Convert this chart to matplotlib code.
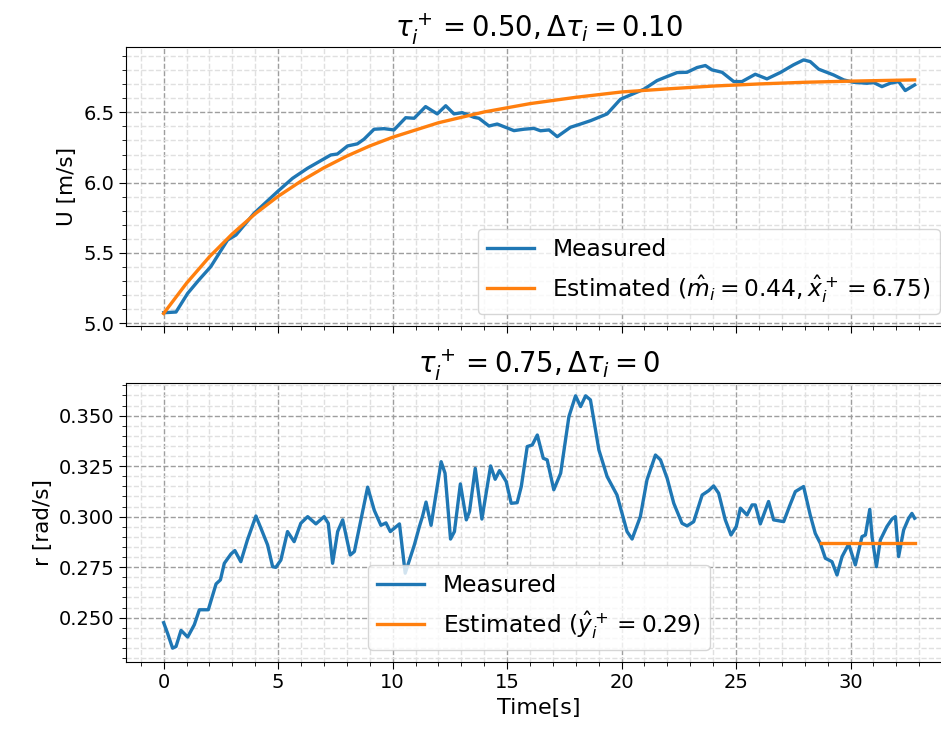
import matplotlib
import matplotlib.pyplot as plt
from matplotlib.ticker import AutoMinorLocator, MultipleLocator

matplotlib.use("Agg")

# =========================
# Data
# =========================
t_u = [0.0, 0.54, 1.05, 1.55, 2.06, 2.79, 3.16, 3.95, 4.97, 5.63, 6.28, 7.30, 7.59,
       8.03, 8.46, 8.75, 9.19, 9.63, 10.06, 10.57, 10.94, 11.44, 11.95, 12.32, 12.68,
       13.04, 13.55, 13.77, 14.21, 14.57, 15.30, 15.73, 16.17, 16.46, 16.83, 17.19,
       17.77, 18.21, 18.65, 19.37, 19.95, 20.39, 20.97, 21.55, 21.99, 22.43, 22.86,
       23.30, 23.66, 23.95, 24.39, 24.90, 25.26, 25.84, 26.35, 26.93, 27.51, 27.95,
       28.24, 28.61, 29.26, 29.70, 30.13, 30.72, 31.01, 31.37, 31.73, 32.10, 32.39, 32.80]
u_meas = [5.075, 5.08, 5.213, 5.31, 5.403, 5.592, 5.628, 5.782, 5.936, 6.031, 6.102,
          6.197, 6.204, 6.261, 6.276, 6.309, 6.380, 6.384, 6.375, 6.462, 6.458, 6.541,
          6.489, 6.547, 6.489, 6.498, 6.465, 6.458, 6.403, 6.417, 6.370, 6.380, 6.386,
          6.369, 6.375, 6.327, 6.394, 6.417, 6.441, 6.489, 6.593, 6.624, 6.664, 6.726,
          6.755, 6.783, 6.785, 6.819, 6.833, 6.802, 6.785, 6.719, 6.719, 6.771, 6.738,
          6.783, 6.838, 6.873, 6.861, 6.807, 6.766, 6.731, 6.714, 6.707, 6.712, 6.683,
          6.707, 6.719, 6.655, 6.695]

t_u_est = [0, 1, 2, 3, 4, 5, 6, 7, 8, 9, 10, 12, 14, 16, 18, 20, 22, 24, 26, 28, 30, 32.8]
u_est = [5.07, 5.285, 5.473, 5.636, 5.779, 5.903, 6.011, 6.106, 6.189, 6.261, 6.323,
         6.426, 6.503, 6.562, 6.607, 6.645, 6.667, 6.687, 6.702, 6.714, 6.722, 6.731]

t_r = [0.0, 0.17, 0.39, 0.54, 0.76, 1.05, 1.34, 1.56, 1.95, 2.29, 2.48, 2.65, 2.94,
       3.11, 3.37, 3.66, 4.03, 4.25, 4.54, 4.76, 4.90, 5.12, 5.41, 5.70, 5.99, 6.29,
       6.65, 7.01, 7.19, 7.38, 7.60, 7.82, 8.15, 8.33, 8.91, 9.20, 9.49, 9.71, 9.90,
       10.30, 10.55, 10.95, 11.17, 11.31, 11.46, 11.68, 12.12, 12.29, 12.53, 12.70,
       12.96, 13.22, 13.36, 13.61, 13.90, 14.28, 14.48, 14.67, 14.96, 15.18, 15.44,
       15.62, 15.88, 16.10, 16.32, 16.58, 16.75, 17.04, 17.34, 17.70, 17.99, 18.21,
       18.43, 18.64, 19.01, 19.37, 19.80, 20.24, 20.46, 20.82, 21.11, 21.48, 21.70,
       21.99, 22.28, 22.64, 22.86, 23.15, 23.52, 23.81, 24.02, 24.24, 24.53, 24.78,
       25.01, 25.19, 25.48, 25.70, 25.84, 26.06, 26.42, 26.64, 27.08, 27.34, 27.59,
       27.95, 28.24, 28.46, 28.68, 28.90, 29.19, 29.41, 29.63, 29.92, 30.21, 30.50,
       30.65, 30.84, 30.94, 31.13, 31.30, 31.59, 31.81, 31.96, 32.10, 32.32, 32.54,
       32.68, 32.80]
r_meas = [0.2475, 0.2423, 0.2349, 0.2357, 0.2437, 0.2404, 0.2465, 0.2539, 0.2539,
          0.2667, 0.2687, 0.2769, 0.2815, 0.2832, 0.2777, 0.2885, 0.3003, 0.2942,
          0.2860, 0.2752, 0.2749, 0.2785, 0.2926, 0.2876, 0.2967, 0.3000, 0.2964,
          0.3000, 0.2967, 0.2769, 0.2926, 0.2984, 0.2810, 0.2827, 0.3146, 0.3031,
          0.2957, 0.2969, 0.2926, 0.2964, 0.2720, 0.2860, 0.2951, 0.3003, 0.3072,
          0.2957, 0.3272, 0.3215, 0.2889, 0.2926, 0.3162, 0.2984, 0.3026, 0.3239,
          0.2988, 0.3251, 0.3185, 0.3228, 0.3174, 0.3066, 0.3069, 0.3149, 0.3347,
          0.3355, 0.3404, 0.3289, 0.3281, 0.3133, 0.3215, 0.3495, 0.3598, 0.3545,
          0.3598, 0.3578, 0.3330, 0.3198, 0.3107, 0.2926, 0.2889, 0.3000, 0.3182,
          0.3305, 0.3281, 0.3190, 0.3066, 0.2967, 0.2954, 0.2975, 0.3107, 0.3129,
          0.3152, 0.3116, 0.2984, 0.2909, 0.2951, 0.3042, 0.3008, 0.3058, 0.3058,
          0.2964, 0.3075, 0.2984, 0.2975, 0.3053, 0.3124, 0.3149, 0.3008, 0.2917,
          0.2868, 0.2794, 0.2777, 0.2711, 0.2802, 0.2864, 0.2761, 0.2901, 0.2909,
          0.3036, 0.2901, 0.2752, 0.2884, 0.2951, 0.2988, 0.3000, 0.2802, 0.2934,
          0.2992, 0.3016, 0.2992]

t_r_est = [28.73, 32.80]
r_est = [0.287, 0.287]

# =========================
# Figure
# =========================
fig = plt.figure(figsize=(9.41, 7.33), dpi=100)
ax1 = fig.add_axes([0.134, 0.5557, 0.8774, 0.3806])
ax2 = fig.add_axes([0.134, 0.0973, 0.8774, 0.3806], sharex=ax1)

ax1.plot(t_u, u_meas, color="tab:blue", lw=2.4, label="Measured")
ax1.plot(t_u_est, u_est, color="tab:orange", lw=2.4,
         label=r"Estimated ($\hat{m}_i = 0.44, \hat{x}_i^+ = 6.75$)")
ax1.set_title(r"$\tau_i^+ = 0.50, \Delta\tau_i = 0.10$", fontsize=19.8)
ax1.set_ylabel("U [m/s]", fontsize=15.5)
ax1.legend(loc="lower right", fontsize=16.8)
ax1.tick_params(labelbottom=False)

ax2.plot(t_r, r_meas, color="tab:blue", lw=2.4, label="Measured")
ax2.plot(t_r_est, r_est, color="tab:orange", lw=2.4,
         label=r"Estimated ($\hat{y}_i^+ = 0.29$)")
ax2.set_title(r"$\tau_i^+ = 0.75, \Delta\tau_i = 0$", fontsize=19.8)
ax2.set_ylabel("r [rad/s]", fontsize=15.5)
ax2.set_xlabel("Time[s]", fontsize=16)
ax2.legend(loc="lower center", fontsize=16.8)
ax2.yaxis.set_major_locator(MultipleLocator(0.025))

for ax in (ax1, ax2):
    ax.xaxis.set_minor_locator(AutoMinorLocator(5))
    ax.yaxis.set_minor_locator(AutoMinorLocator(5))
    ax.grid(which="major", ls="--", color="0.62", lw=1)
    ax.grid(which="minor", ls="--", color="0.88", lw=1)
    ax.tick_params(which="major", labelsize=14, length=5)
    ax.tick_params(which="minor", length=3)

ax1.set_xlim(-1.64, 34.42)
ax1.set_ylim(4.983, 6.967)
ax2.set_ylim(0.2282, 0.3663)

fig.savefig("out.png", dpi=100)
